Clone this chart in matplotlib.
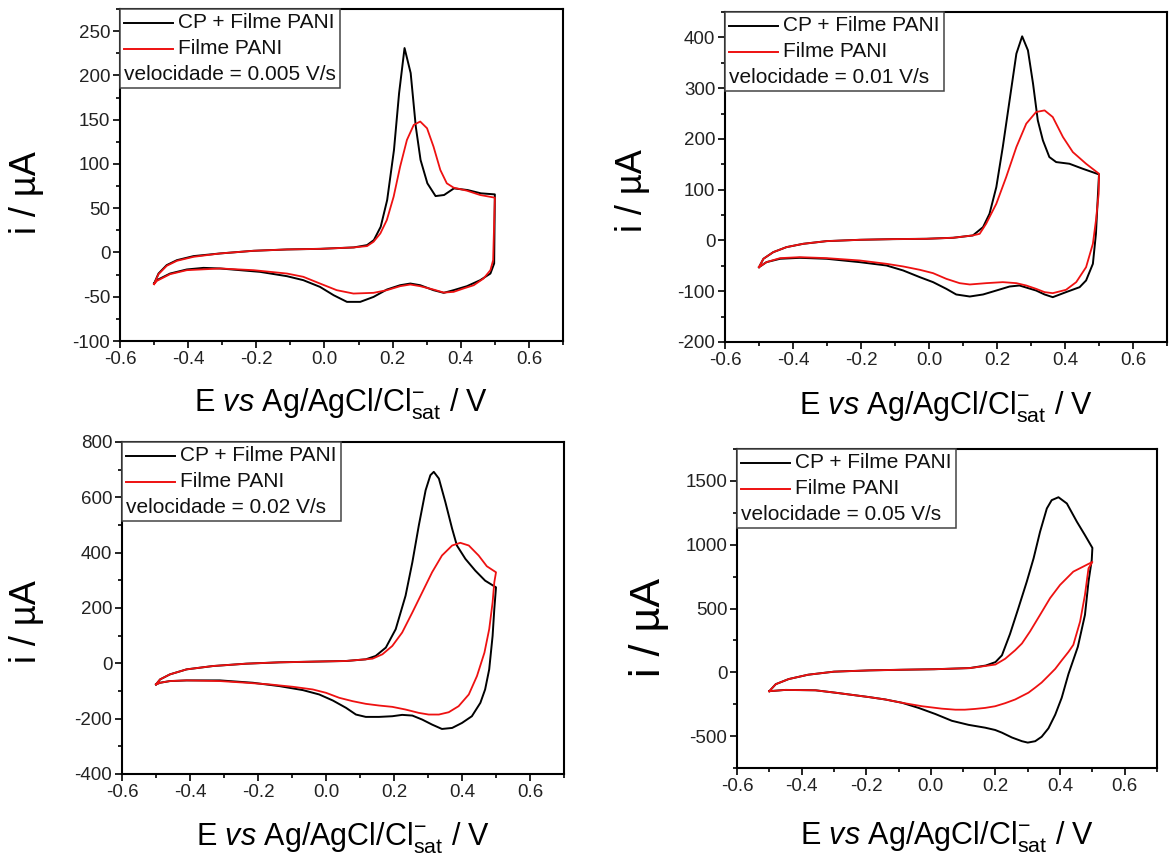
import matplotlib
matplotlib.use('Agg')
import matplotlib.pyplot as plt
from matplotlib.lines import Line2D
from matplotlib.offsetbox import AnchoredOffsetbox, VPacker, HPacker, TextArea, DrawingArea
from matplotlib.ticker import MultipleLocator, FormatStrFormatter

plt.rcParams['font.family'] = ['Liberation Sans', 'DejaVu Sans']
plt.rcParams['mathtext.fontset'] = 'custom'
plt.rcParams['mathtext.rm'] = 'Liberation Sans'
plt.rcParams['mathtext.it'] = 'Liberation Sans:italic'
plt.rcParams['mathtext.bf'] = 'Liberation Sans:bold'
plt.rcParams['axes.unicode_minus'] = False

# ---------------- data (E / V, i / uA), full CV loops ----------------
# Panel 1: 0.005 V/s
p1_black_E = [-0.50, -0.487, -0.463, -0.433, -0.384, -0.306, -0.208, -0.110, -0.012, 0.086, 0.125, 0.145,
              0.165, 0.184, 0.204, 0.219, 0.235, 0.253, 0.268, 0.282, 0.302, 0.326, 0.351, 0.380, 0.420,
              0.459, 0.50,
              0.498, 0.487, 0.457, 0.418, 0.379, 0.350, 0.320, 0.281, 0.252, 0.222, 0.183, 0.144, 0.105,
              0.066, 0.027, -0.013, -0.062, -0.110, -0.189, -0.306, -0.355, -0.404, -0.453, -0.492, -0.50]
p1_black_i = [-35.1, -23.8, -14.3, -8.7, -4.1, -1.1, 1.9, 3.4, 4.1, 5.7, 8.3, 14.0,
              29.0, 59.2, 115.8, 179.9, 230.9, 202.6, 142.2, 104.5, 78.1, 63.7, 64.9, 72.4, 70.5,
              66.8, 65.6,
              -12.4, -23.8, -31.3, -38.1, -42.6, -45.6, -42.6, -37.0, -35.1, -37.0, -41.9, -50.2, -55.8,
              -55.8, -48.3, -38.9, -31.3, -26.8, -21.9, -18.1, -17.4, -19.2, -23.8, -31.3, -35.1]
p1_red_E = [-0.50, -0.487, -0.463, -0.433, -0.384, -0.306, -0.208, -0.110, -0.012, 0.086, 0.125, 0.144,
            0.164, 0.183, 0.203, 0.222, 0.242, 0.262, 0.281, 0.301, 0.320, 0.340, 0.359, 0.379, 0.418,
            0.457, 0.50,
            0.495, 0.487, 0.467, 0.438, 0.408, 0.379, 0.350, 0.320, 0.281, 0.252, 0.222, 0.183, 0.144,
            0.085, 0.036, -0.013, -0.062, -0.110, -0.208, -0.306, -0.404, -0.453, -0.492, -0.50]
p1_red_i = [-35.8, -24.5, -15.1, -9.4, -4.9, -1.1, 1.9, 3.4, 4.1, 5.7, 7.2, 12.1,
            21.5, 36.6, 63.0, 96.9, 127.1, 144.1, 147.9, 140.3, 119.6, 93.2, 78.1, 73.2, 69.8,
            64.9, 61.9,
            -8.7, -20.0, -29.4, -37.0, -40.7, -44.5, -45.3, -41.9, -38.1, -36.2, -38.1, -42.6, -45.6,
            -46.4, -42.6, -35.1, -27.5, -23.8, -20.0, -18.1, -20.0, -24.5, -32.1, -35.8]

# Panel 2: 0.01 V/s
p2_black_E = [-0.50, -0.487, -0.458, -0.419, -0.370, -0.301, -0.204, -0.106, -0.008, 0.071, 0.129, 0.159,
              0.178, 0.198, 0.217, 0.237, 0.257, 0.274, 0.291, 0.306, 0.320, 0.335, 0.354, 0.374, 0.413,
              0.452, 0.50,
              0.496, 0.491, 0.482, 0.462, 0.443, 0.403, 0.364, 0.340, 0.315, 0.266, 0.237, 0.198, 0.159,
              0.120, 0.080, 0.051, 0.012, -0.027, -0.076, -0.125, -0.204, -0.301, -0.380, -0.438, -0.478,
              -0.50]
p2_black_i = [-52.6, -36.1, -23.0, -13.1, -6.6, -1.3, 1.3, 2.6, 3.3, 5.3, 9.9, 26.3,
              52.6, 105.1, 184.0, 275.9, 367.9, 402.1, 374.5, 308.8, 236.5, 197.1, 164.3, 154.4, 151.1,
              141.3, 130.1,
              78.8, 13.1, -46.0, -78.8, -92.0, -101.8, -111.7, -106.4, -98.6, -88.7, -90.7, -98.6, -106.4,
              -110.4, -106.4, -95.3, -82.1, -72.3, -59.1, -49.3, -42.7, -36.1, -34.2, -36.1, -42.7,
              -52.6]
p2_red_E = [-0.50, -0.487, -0.458, -0.419, -0.370, -0.301, -0.204, -0.106, -0.008, 0.071, 0.129, 0.149,
            0.168, 0.198, 0.227, 0.257, 0.286, 0.315, 0.340, 0.364, 0.394, 0.423, 0.462, 0.50,
            0.499, 0.491, 0.482, 0.462, 0.433, 0.403, 0.364, 0.340, 0.315, 0.286, 0.257, 0.217, 0.168,
            0.120, 0.090, 0.051, 0.012, -0.027, -0.076, -0.125, -0.204, -0.301, -0.380, -0.438, -0.478,
            -0.50]
p2_red_i = [-52.6, -36.1, -23.0, -13.1, -6.6, -1.3, 1.3, 2.6, 3.3, 5.3, 9.9, 13.1,
            32.9, 72.3, 124.8, 184.0, 230.0, 253.0, 256.2, 243.1, 203.7, 174.1, 151.1, 131.4,
            92.0, 39.4, -6.6, -52.6, -82.1, -97.2, -103.8, -101.8, -95.3, -88.7, -84.1, -82.1, -84.1,
            -86.7, -84.1, -75.6, -64.4, -57.8, -51.2, -46.0, -39.4, -34.8, -32.9, -34.8, -42.7,
            -52.6]

# Panel 3: 0.02 V/s
p3_black_E = [-0.50, -0.488, -0.459, -0.410, -0.332, -0.234, -0.137, -0.039, 0.059, 0.117, 0.146, 0.176,
              0.205, 0.234, 0.254, 0.273, 0.293, 0.307, 0.317, 0.332, 0.351, 0.371, 0.385, 0.410, 0.439,
              0.468, 0.50,
              0.495, 0.490, 0.480, 0.468, 0.454, 0.429, 0.400, 0.371, 0.341, 0.312, 0.283, 0.254, 0.224,
              0.195, 0.156, 0.117, 0.088, 0.059, 0.020, -0.020, -0.068, -0.137, -0.215, -0.312, -0.410,
              -0.459, -0.488, -0.50]
p3_black_i = [-76.2, -58.1, -39.9, -21.8, -9.7, -1.2, 3.6, 6.1, 8.5, 14.5, 26.6, 56.9,
              123.4, 244.4, 365.4, 498.5, 625.6, 680.0, 692.1, 667.9, 583.2, 486.4, 425.9, 377.5, 335.2,
              298.9, 274.7,
              196.0, 99.2, -21.8, -94.4, -142.8, -191.2, -215.4, -233.5, -237.2, -221.4, -203.3, -188.8,
              -186.3, -191.2, -193.6, -193.6, -185.1, -160.9, -134.3, -112.5, -96.8, -82.3, -70.2,
              -61.7, -61.7, -64.1, -70.2, -76.2]
p3_red_E = [-0.50, -0.488, -0.459, -0.410, -0.332, -0.234, -0.137, -0.039, 0.059, 0.117, 0.137, 0.166,
            0.195, 0.224, 0.254, 0.283, 0.312, 0.341, 0.371, 0.395, 0.420, 0.449, 0.473, 0.50,
            0.495, 0.490, 0.480, 0.466, 0.444, 0.420, 0.390, 0.361, 0.332, 0.302, 0.273, 0.234, 0.195,
            0.156, 0.117, 0.078, 0.039, 0.0, -0.039, -0.098, -0.166, -0.234, -0.312, -0.410, -0.459,
            -0.488, -0.50]
p3_red_i = [-76.2, -58.1, -39.9, -21.8, -9.7, -1.2, 3.6, 6.1, 8.5, 14.5, 16.9, 32.7,
            62.9, 111.3, 183.9, 256.5, 329.1, 389.6, 425.9, 435.6, 425.9, 389.6, 350.9, 329.1,
            292.8, 220.2, 123.4, 38.7, -46.0, -112.5, -154.9, -176.7, -185.1, -185.1, -179.1, -167.0,
            -157.3, -152.5, -146.4, -136.7, -124.6, -106.5, -94.4, -84.7, -76.2, -70.2, -64.1, -61.7,
            -64.1, -70.2, -76.2]

# Panel 4: 0.05 V/s
p4_black_E = [-0.50, -0.48, -0.44, -0.38, -0.30, -0.19, -0.09, 0.01, 0.12, 0.17, 0.20, 0.22, 0.245,
              0.271, 0.297, 0.318, 0.338, 0.359, 0.374, 0.395, 0.421, 0.452, 0.477, 0.50,
              0.498, 0.488, 0.477, 0.455, 0.426, 0.405, 0.385, 0.364, 0.343, 0.323, 0.300, 0.282, 0.251,
              0.220, 0.199, 0.168, 0.117, 0.065, 0.014, -0.038, -0.089, -0.141, -0.192, -0.295, -0.357,
              -0.45, -0.50]
p4_black_i = [-148, -93, -53, -19, 5, 15, 20, 24, 33, 53, 80, 133, 300,
              503, 711, 893, 1101, 1284, 1349, 1372, 1323, 1180, 1075, 975,
              880, 711, 450, 200, -13, -200, -332, -439, -505, -540, -551, -540, -511,
              -473, -452, -434, -412, -380, -327, -279, -239, -213, -194, -160, -141,
              -138, -148]
p4_red_E = [-0.50, -0.48, -0.44, -0.38, -0.30, -0.19, -0.09, 0.01, 0.12, 0.17, 0.20, 0.23, 0.261,
            0.282, 0.307, 0.338, 0.369, 0.40, 0.441, 0.50,
            0.488, 0.477, 0.462, 0.441, 0.426, 0.405, 0.385, 0.364, 0.343, 0.323, 0.302, 0.261, 0.230,
            0.199, 0.168, 0.137, 0.105, 0.076, 0.034, -0.027, -0.089, -0.141, -0.192, -0.295, -0.357,
            -0.45, -0.50]
p4_red_i = [-148, -93, -53, -19, 5, 15, 20, 24, 33, 50, 61, 106, 173,
            226, 320, 450, 581, 685, 789, 865,
            815, 607, 398, 215, 160, 93, 27, -27, -80, -120, -160, -213, -242,
            -266, -279, -287, -293, -293, -285, -266, -239, -213, -194, -160, -141,
            -138, -148]

series_labels = ['CP + Filme PANI', 'Filme PANI']
speeds = ['0.005', '0.01', '0.02', '0.05']
ylims = [(-100, 275), (-200, 450), (-400, 800), (-750, 1750)]
ymajor = [50, 100, 200, 500]
xlabel_text = r'$\mathrm{E}\ \mathit{vs}\ \mathrm{Ag/AgCl/Cl}^{-}_{\mathrm{sat}}\ /\ \mathrm{V}$'
ylabel_text = 'i / µA'

panels = [
    (p1_black_E, p1_black_i, p1_red_E, p1_red_i),
    (p2_black_E, p2_black_i, p2_red_E, p2_red_i),
    (p3_black_E, p3_black_i, p3_red_E, p3_red_i),
    (p4_black_E, p4_black_i, p4_red_E, p4_red_i),
]

# ---------------- layout ----------------
W, H = 1169, 860
def frac(l, t, r, b):
    return [l / W, 1 - b / H, (r - l) / W, (b - t) / H]

rects = [frac(120, 9, 563, 341), frac(725, 12, 1167, 342),
         frac(122, 442, 564, 774), frac(737, 449, 1157, 768)]
xlabel_y = [-0.137, -0.145, -0.140, -0.163]
ylabel_xy = [(-0.212, 0.446), (-0.210, 0.458), (-0.215, 0.458), (-0.210, 0.442)]
ylabel_fs = [26, 26, 26, 31]

BLACK = '#000000'
RED = '#ee1111'

fig = plt.figure(figsize=(W / 100, H / 100), dpi=100)


def add_legend(ax, speed):
    fs = 15
    rows = []
    for color, lab in [(BLACK, series_labels[0]), (RED, series_labels[1])]:
        da = DrawingArea(35, 10, 0, 0)
        da.add_artist(Line2D([0, 35], [5, 5], color=color, lw=1.4))
        ta = TextArea(lab, textprops=dict(fontsize=fs, color='#111111'))
        rows.append(HPacker(children=[da, ta], align='center', pad=0, sep=4))
    rows.append(TextArea(f'velocidade = {speed} V/s', textprops=dict(fontsize=fs, color='#111111')))
    vp = VPacker(children=rows, align='left', pad=0, sep=5)
    ab = AnchoredOffsetbox(loc='upper left', child=vp, pad=0.3, borderpad=0.0, frameon=True)
    ab.patch.set_boxstyle('square', pad=0)
    ab.patch.set_edgecolor('#444444')
    ab.patch.set_linewidth(1.1)
    ab.patch.set_facecolor('white')
    ab.set_zorder(5)
    ax.add_artist(ab)


for k, (bE, bi, rE, ri) in enumerate(panels):
    ax = fig.add_axes(rects[k])
    ax.plot(bE, bi, color=BLACK, lw=1.4, solid_joinstyle='round')
    ax.plot(rE, ri, color=RED, lw=1.3, solid_joinstyle='round')
    ax.set_xlim(-0.6, 0.7)
    ax.set_ylim(*ylims[k])
    ax.xaxis.set_minor_locator(MultipleLocator(0.1))
    ax.yaxis.set_major_locator(MultipleLocator(ymajor[k]))
    ax.yaxis.set_minor_locator(MultipleLocator(ymajor[k] / 2))
    ax.set_xticks([-0.6, -0.4, -0.2, 0.0, 0.2, 0.4, 0.6])
    ax.xaxis.set_major_formatter(FormatStrFormatter('%.1f'))
    ax.yaxis.set_major_formatter(FormatStrFormatter('%d'))
    for s in ax.spines.values():
        s.set_linewidth(1.5)
        s.set_color('black')
    ax.tick_params(which='both', direction='out', top=False, right=False, width=1.2, color='black')
    ax.tick_params(which='major', length=5, labelsize=13.5, pad=2, labelcolor='#222222')
    ax.tick_params(which='minor', length=3)
    ax.set_xlabel(xlabel_text, fontsize=22)
    ax.xaxis.set_label_coords(0.5, xlabel_y[k])
    ax.set_ylabel(ylabel_text, fontsize=ylabel_fs[k], va='center', ha='center')
    ax.yaxis.set_label_coords(*ylabel_xy[k])
    add_legend(ax, speeds[k])

fig.savefig('out.png', dpi=100)
